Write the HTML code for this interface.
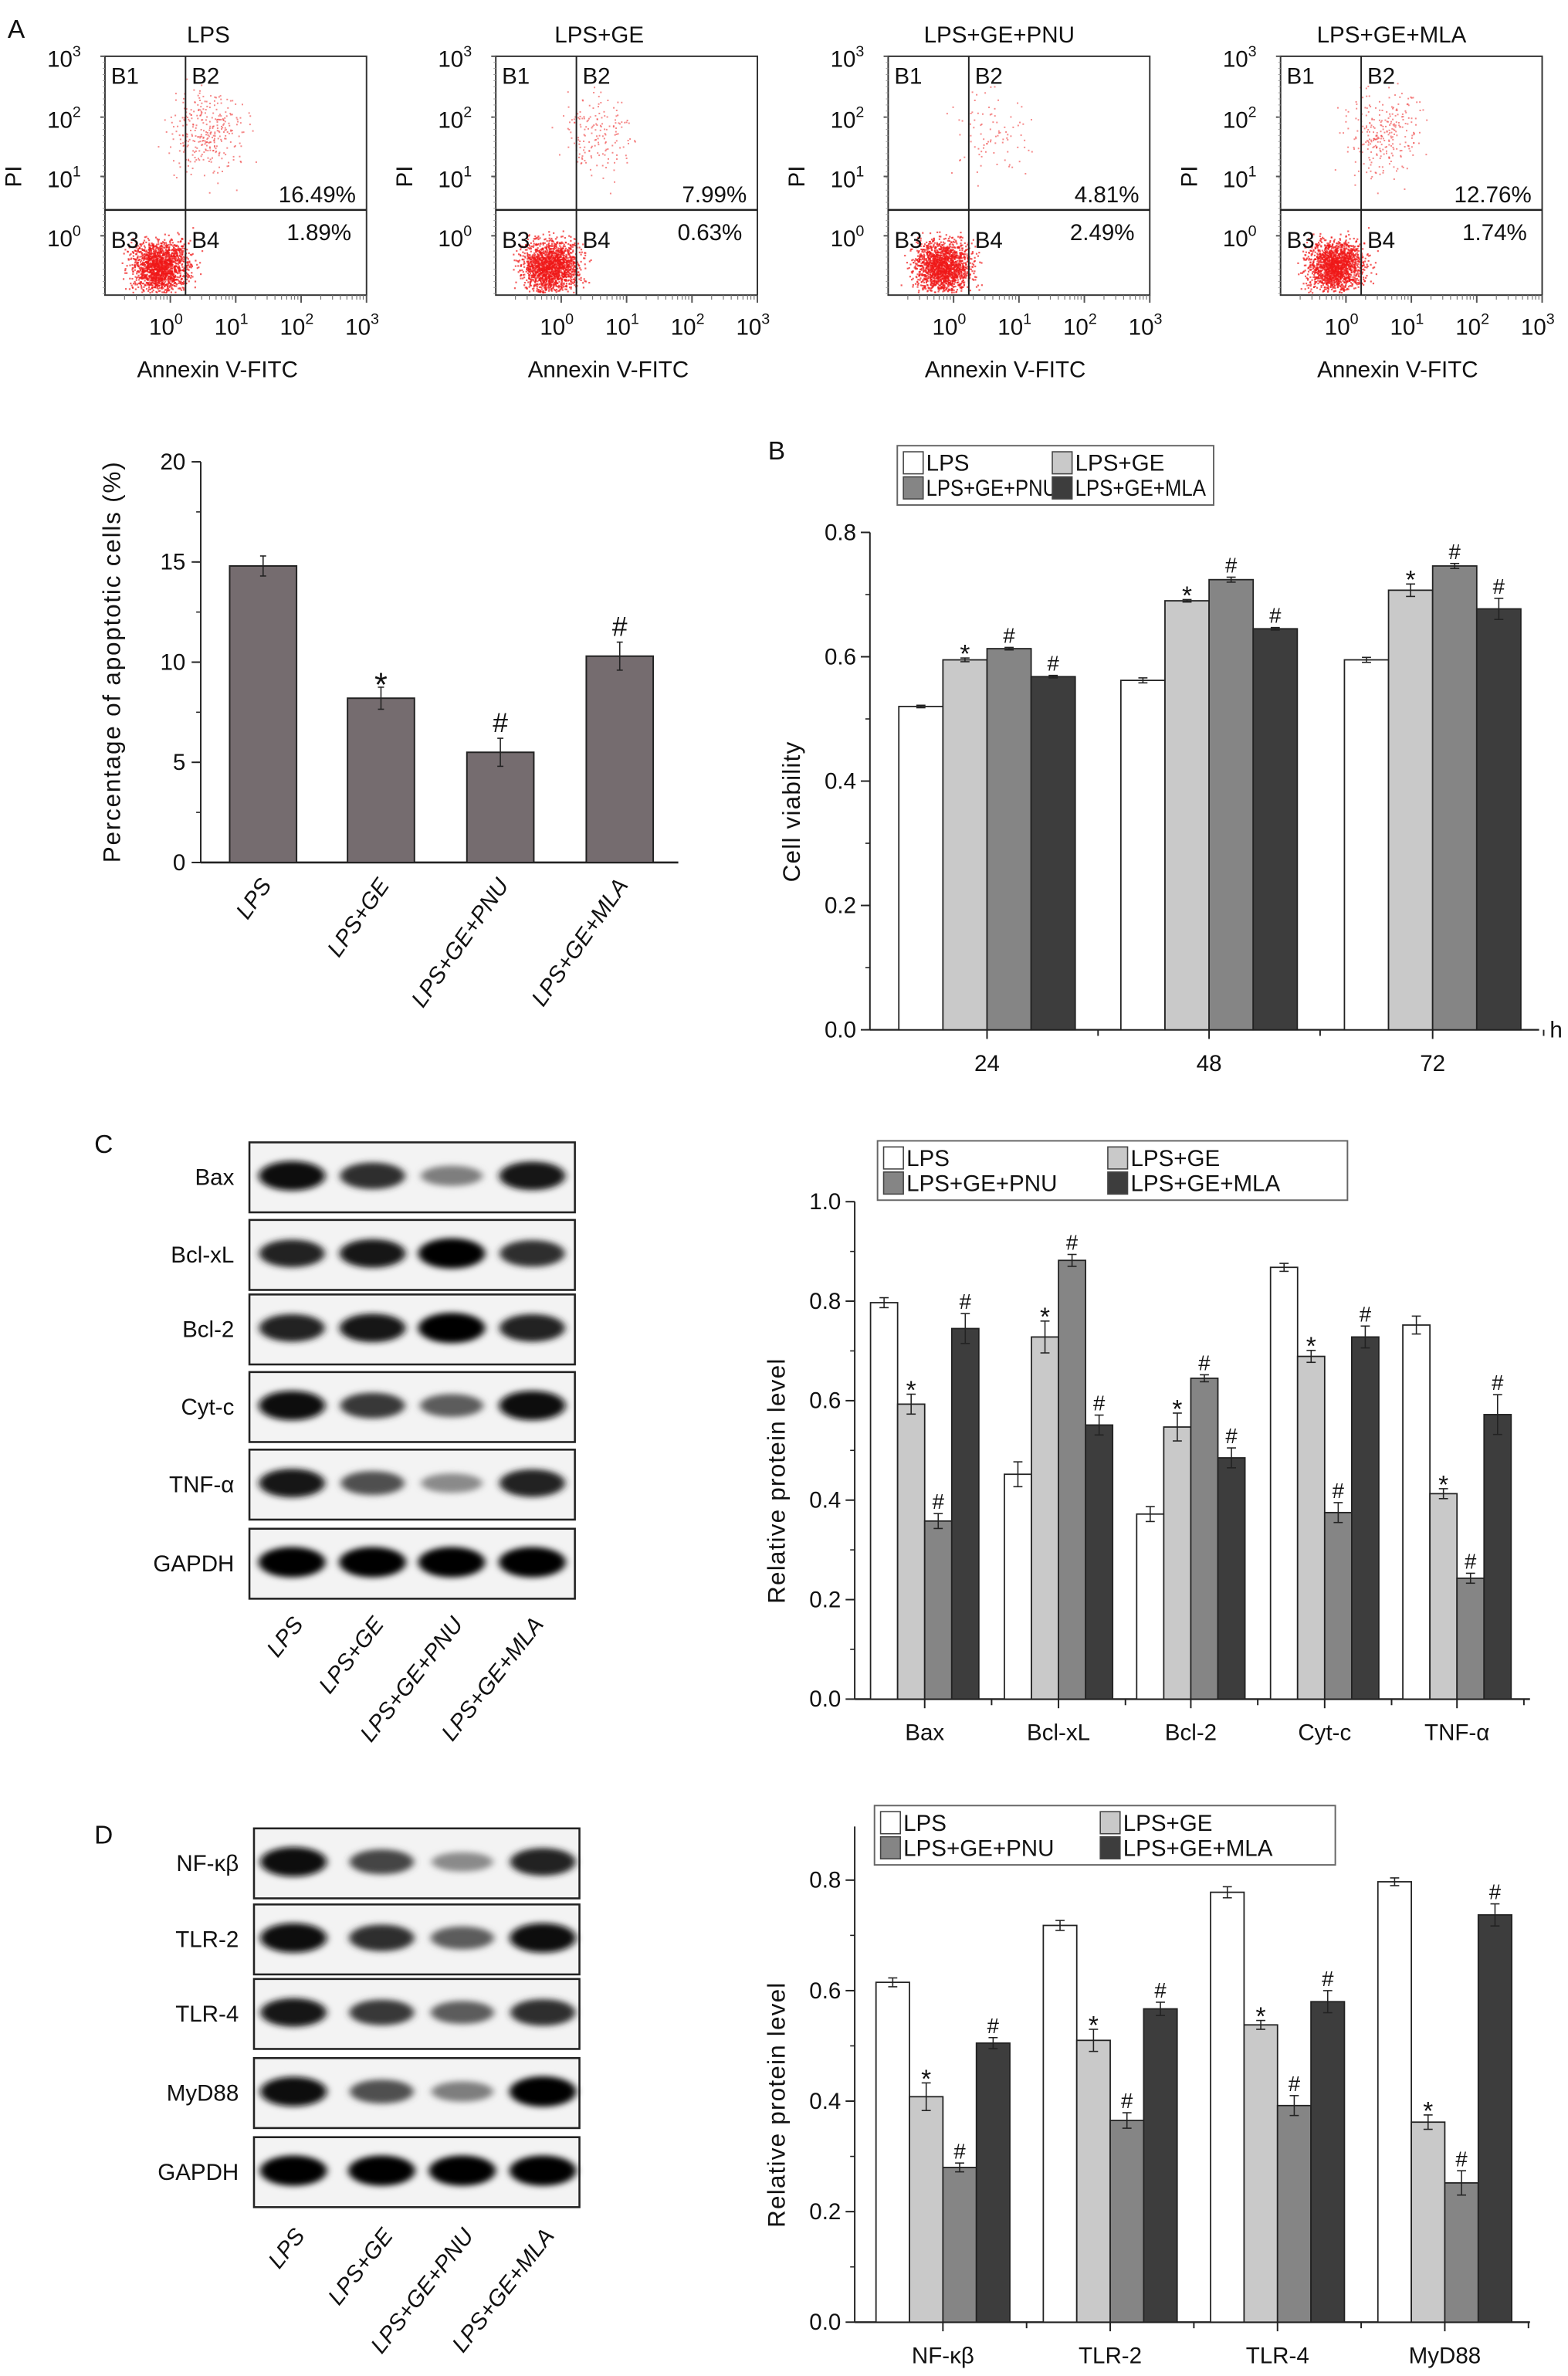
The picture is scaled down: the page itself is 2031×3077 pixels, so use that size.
<!DOCTYPE html>
<html><head><meta charset="utf-8"><style>
html,body{margin:0;padding:0;background:#fff}
svg{display:block}
text{font-family:"Liberation Sans",Arial,sans-serif;fill:#111}
</style></head><body>
<svg id="fig" width="2031" height="3077" viewBox="0 0 1031 1562" preserveAspectRatio="none" xmlns="http://www.w3.org/2000/svg">
<rect width="1031" height="1562" fill="#fff"/>
<g id="flow"></g>
<g id="chartA"></g>
<g id="chartB"></g>
<g id="blotC"></g>
<g id="chartC"></g>
<g id="blotD"></g>
<g id="chartD"></g>
<text x="5" y="25" font-size="17">A</text>
<text x="505" y="302" font-size="17">B</text>
<text x="62" y="758" font-size="17">C</text>
<text x="62" y="1212" font-size="17">D</text>
</svg>
<script>
// ---------- data ----------
const groups = ["LPS","LPS+GE","LPS+GE+PNU","LPS+GE+MLA"];
const flowUpperRight = ["16.49%","7.99%","4.81%","12.76%"];
const flowLowerRight = ["1.89%","0.63%","2.49%","1.74%"];
const flowB2Density = [320,170,90,280];

const apoptosisValues = [14.8, 8.2, 5.5, 10.3];
const apoptosisErrors = [0.5, 0.55, 0.7, 0.7];
const apoptosisMarks = ["", "*", "#", "#"];
const apoptosisTicks = [0,5,10,15,20];

const viabilityCats = ["24","48","72"];
const viabilityLPS = [0.520, 0.562, 0.595];
const viabilityGE = [0.595, 0.690, 0.707];
const viabilityPNU = [0.613, 0.724, 0.746];
const viabilityMLA = [0.568, 0.645, 0.677];
const viabilityErrLPS = [0.002, 0.004, 0.004];
const viabilityErrGE = [0.003, 0.002, 0.010];
const viabilityErrPNU = [0.002, 0.004, 0.004];
const viabilityErrMLA = [0.002, 0.002, 0.017];
const viabilityTicks = [0.0,0.2,0.4,0.6,0.8];

const proteinCatsC = ["Bax","Bcl-xL","Bcl-2","Cyt-c","TNF-α"];
const proteinC_LPS = [0.797, 0.452, 0.372, 0.868, 0.752];
const proteinC_GE = [0.593, 0.728, 0.547, 0.689, 0.413];
const proteinC_PNU = [0.358, 0.882, 0.645, 0.375, 0.243];
const proteinC_MLA = [0.745, 0.551, 0.485, 0.728, 0.572];
const proteinC_ErrLPS = [0.010, 0.025, 0.015, 0.008, 0.018];
const proteinC_ErrGE = [0.020, 0.032, 0.028, 0.012, 0.010];
const proteinC_ErrPNU = [0.015, 0.012, 0.007, 0.020, 0.010];
const proteinC_ErrMLA = [0.030, 0.020, 0.020, 0.022, 0.040];
const proteinTicksC = [0.0,0.2,0.4,0.6,0.8,1.0];

const proteinCatsD = ["NF-κβ","TLR-2","TLR-4","MyD88"];
const proteinD_LPS = [0.615, 0.718, 0.778, 0.797];
const proteinD_GE = [0.408, 0.510, 0.538, 0.362];
const proteinD_PNU = [0.280, 0.365, 0.392, 0.252];
const proteinD_MLA = [0.505, 0.567, 0.580, 0.737];
const proteinD_ErrLPS = [0.008, 0.009, 0.010, 0.007];
const proteinD_ErrGE = [0.025, 0.020, 0.008, 0.013];
const proteinD_ErrPNU = [0.008, 0.014, 0.018, 0.022];
const proteinD_ErrMLA = [0.010, 0.012, 0.020, 0.020];
const proteinTicksD = [0.0,0.2,0.4,0.6,0.8];

const blotRowsC = ["Bax","Bcl-xL","Bcl-2","Cyt-c","TNF-α","GAPDH"];
const blotIntensityC = [[.95,.8,.45,.9],[.85,.9,1,.8],[.85,.9,1,.85],[.95,.75,.6,.95],[.9,.65,.4,.85],[1,1,1,1]];
const blotRowsD = ["NF-κβ","TLR-2","TLR-4","MyD88","GAPDH"];
const blotIntensityD = [[.95,.7,.4,.85],[.95,.8,.6,.95],[.9,.75,.6,.8],[.95,.65,.45,1],[1,1,1,1]];

const fills = ["#ffffff","#c9c9c9","#858585","#3d3d3d"];
const NS = "http://www.w3.org/2000/svg";
function mk(parent, tag, attrs, txt){
  const e = document.createElementNS(NS, tag);
  for (const k in attrs) e.setAttribute(k, attrs[k]);
  if (txt !== undefined) e.textContent = txt;
  parent.appendChild(e); return e;
}
// seeded texture generator for flow cytometry dot clouds
let seed = 12345;
function rnd(){ seed = (seed*1103515245 + 12345) & 0x7fffffff; return seed/0x7fffffff; }
function gauss(){ return (rnd()+rnd()+rnd()+rnd()-2)/0.816; }

// ---------- flow cytometry ----------
(function(){
  const g = document.getElementById('flow');
  const xs = [69,326,584,842];
  const top = 37, bot = 194, W = 172;
  xs.forEach((x0,i)=>{
    const p = mk(g,'g',{});
    
    
    const t = mk(p,'text',{x:x0+W/2-18+(i>1?5:0),y:28,'font-size':15,'text-anchor':'middle'},groups[i]);
    
    
    const gx = x0+53, gy = 138;
    for (let k=0;k<1700;k++){
      const dx = x0+36+gauss()*13, dy = 175+gauss()*12;
      if (dx<x0+2||dx>x0+W-2||dy<top+2||dy>bot-2) continue;
      mk(p,'rect',{x:dx.toFixed(1),y:dy.toFixed(1),width:1.1,height:1.1,fill:'#f01818','fill-opacity':0.7});
    }
    for (let k=0;k<flowB2Density[i];k++){
      const dx = gx+14+gauss()*17, dy = 88+gauss()*20;
      if (dx<x0+2||dx>x0+W-2||dy<top+2||dy>bot-2) continue;
      mk(p,'rect',{x:dx.toFixed(1),y:dy.toFixed(1),width:1,height:1,fill:'#ee3a3a','fill-opacity':0.6});
    }
    mk(p,'rect',{x:x0,y:top,width:W,height:bot-top,fill:'none',stroke:'#333','stroke-width':1});
    mk(p,'line',{x1:gx,y1:top,x2:gx,y2:bot,stroke:'#222','stroke-width':1});
    mk(p,'line',{x1:x0,y1:gy,x2:x0+W,y2:gy,stroke:'#222','stroke-width':1.3});
    [['B1',x0+4,55],['B2',gx+4,55],['B3',x0+4,163],['B4',gx+4,163]].forEach(q=>{
      const e=mk(p,'text',{x:q[1],y:q[2],'font-size':15},q[0]);
      
      
    });
    const u=mk(p,'text',{x:x0+W-7,y:133,'font-size':15,'text-anchor':'end'},flowUpperRight[i]);
    
    
    const l=mk(p,'text',{x:x0+W-10,y:158,'font-size':15,'text-anchor':'end'},flowLowerRight[i]);
    
    
    const ylab = [[top,'3'],[77,'2'],[116,'1'],[155,'0']];
    ylab.forEach(q=>{
      const e=mk(p,'text',{x:x0-38,y:q[0]+7,'font-size':15},'10');
      mk(e,'tspan',{dy:-7,'font-size':10},q[1]);
      
      
      mk(p,'line',{x1:x0-3,y1:q[0],x2:x0,y2:q[0],stroke:'#555'});
    });
    for(let y=top+4;y<bot;y+=4) mk(p,'line',{x1:x0-1.5,y1:y,x2:x0,y2:y,stroke:'#999','stroke-width':0.5});
    const xt=[x0+43,x0+86,x0+129,x0+172];
    xt.forEach((xx,j)=>{
      const e=mk(p,'text',{x:xx-14,y:220,'font-size':15},'10');
      mk(e,'tspan',{dy:-7,'font-size':10},String(j));
      
      
      mk(p,'line',{x1:xx,y1:bot,x2:xx,y2:bot+5,stroke:'#555'});
      for(const f of [0.3,0.48,0.6,0.7,0.78,0.85,0.9,0.95]) mk(p,'line',{x1:xx-43+f*43,y1:bot,x2:xx-43+f*43,y2:bot+3,stroke:'#777','stroke-width':0.6});
    });
    const pi=mk(p,'text',{x:0,y:0,'font-size':15,transform:`translate(${x0-55},${116}) rotate(-90)`,'text-anchor':'middle'},'PI');
    
    
    const ax=mk(p,'text',{x:x0+W/2-12+(i>1?3:0),y:248,'font-size':15,'text-anchor':'middle'},'Annexin V-FITC');
    
    
  });
})();

// ---------- generic helpers ----------
function errBar(g,x,y1,y2,w){
  mk(g,'line',{x1:x,y1:y1,x2:x,y2:y2,stroke:'#222','stroke-width':0.8});
  mk(g,'line',{x1:x-w,y1:y1,x2:x+w,y2:y1,stroke:'#222','stroke-width':0.8});
  mk(g,'line',{x1:x-w,y1:y2,x2:x+w,y2:y2,stroke:'#222','stroke-width':0.8});
}
function legend(g,x,y,w,h,fit){
  const L=mk(g,'g',{});
  
  
  mk(L,'rect',{x:x,y:y,width:w,height:h,fill:'#fff',stroke:'#666','stroke-width':1});
  const cols=[x+4,x+w*0.49], rows=[y+4,y+h/2+1];
  groups.forEach((n,i)=>{
    const cx=cols[i%2], cy=rows[Math.floor(i/2)];
    const sw=mk(L,'rect',{x:cx,y:cy,width:13,height:h/2-5,fill:fills[i],stroke:'#444','stroke-width':0.8});
    
    
    const attrs={x:cx+15,y:cy+h/2-7,'font-size':15};
    if(fit && n.length>6){attrs.textLength=fit; attrs.lengthAdjust='spacingAndGlyphs';}
    const t=mk(L,'text',attrs,n);
    
    
  });
}
function grouped(g,opt){
  const {x0,x1,y0,vmax,vtop,ticks,minor,cats,series,errs,centers,barW,label,fmt}=opt;
  const ys=v=>y0-(v/vmax)*(y0-opt.yAt);
  const axis=mk(g,'g',{});
  
  
  mk(axis,'line',{x1:x0,y1:y0,x2:x0,y2:ys(vtop),stroke:'#222','stroke-width':1});
  for(let v=0;v<=vtop+1e-9;v+=minor) mk(axis,'line',{x1:x0-3,y1:ys(v),x2:x0,y2:ys(v),stroke:'#222','stroke-width':0.8});
  ticks.forEach(v=>{
    mk(axis,'line',{x1:x0-6,y1:ys(v),x2:x0,y2:ys(v),stroke:'#222','stroke-width':1});
    const t=mk(axis,'text',{x:x0-9,y:ys(v)+5,'font-size':15,'text-anchor':'end'},fmt(v));
    
    
  });
  const yt=mk(g,'text',{x:0,y:0,'font-size':16,'letter-spacing':'0.6','text-anchor':'middle',transform:`translate(${x0-46},${(y0+ys(vtop))/2+20}) rotate(-90)`},label);
  
  
  const xa=mk(g,'line',{x1:x0,y1:y0,x2:x1,y2:y0,stroke:'#222','stroke-width':1.2});
  
  
  const sp=centers.length>1?centers[1]-centers[0]:100;
  cats.forEach((c,ci)=>{
    const cx=centers[ci];
    mk(g,'line',{x1:cx,y1:y0,x2:cx,y2:y0+6,stroke:'#222'});
    mk(g,'line',{x1:cx+sp/2,y1:y0,x2:cx+sp/2,y2:y0+4,stroke:'#222'});
    const t=mk(g,'text',{x:cx,y:y0+27,'font-size':15,'text-anchor':'middle'},c);
    
    
    series.forEach((s,si)=>{
      const bx=cx-2*barW+si*barW, v=s[ci], e=errs[si][ci];
      const r=mk(g,'rect',{x:bx,y:ys(v),width:barW,height:y0-ys(v),fill:fills[si],stroke:'#222','stroke-width':0.9});
      
      
      errBar(g,bx+barW/2,ys(v+e),ys(v-e),3);
      const m = si===0?'':(si===1?'*':'#');
      if(m){
        const a=mk(g,'text',{x:bx+barW/2,y:ys(v+e)-(m==='*'?-3:3),'font-size':m==='*'?17:14,'text-anchor':'middle'},m);
        
        
      }
    });
  });
}

// ---------- chart A (apoptosis) ----------
(function(){
  const g=document.getElementById('chartA');
  const x0=132,y0=567,yTop=303.6,vmax=20;
  const ys=v=>y0-v/vmax*(y0-yTop);
  const centers=[173,250.5,329,407.5], bw=44;
  mk(g,'line',{x1:x0,y1:y0,x2:x0,y2:yTop,stroke:'#222'});
  for(let v=0;v<=20;v+=2.5) mk(g,'line',{x1:x0-3,y1:ys(v),x2:x0,y2:ys(v),stroke:'#222','stroke-width':0.8});
  apoptosisTicks.forEach(v=>{
    mk(g,'line',{x1:x0-6,y1:ys(v),x2:x0,y2:ys(v),stroke:'#222'});
    const t=mk(g,'text',{x:x0-10,y:ys(v)+5,'font-size':15,'text-anchor':'end'},String(v));
    
    
  });
  mk(g,'line',{x1:x0,y1:y0,x2:446,y2:y0,stroke:'#222','stroke-width':1.3});
  const yt=mk(g,'text',{x:0,y:0,'font-size':16,'letter-spacing':'0.9','text-anchor':'middle',transform:`translate(79,${435}) rotate(-90)`},'Percentage of apoptotic cells (%)');
  
  
  groups.forEach((n,i)=>{
    const v=apoptosisValues[i],e=apoptosisErrors[i],cx=centers[i];
    const r=mk(g,'rect',{x:cx-bw/2,y:ys(v),width:bw,height:y0-ys(v),fill:'#756c6f',stroke:'#222','stroke-width':1});
    
    
    errBar(g,cx,ys(v+e),ys(v-e),2);
    if(apoptosisMarks[i]){
      const s=apoptosisMarks[i]==='*';
      const a=mk(g,'text',{x:cx,y:ys(v+e)-(s?-6:4),'font-size':s?22:18,'text-anchor':'middle'},apoptosisMarks[i]);
      
      
    }
    const t=mk(g,'text',{x:0,y:0,'font-size':15,'font-style':'italic','text-anchor':'end',transform:`translate(${cx+6},${582}) rotate(-55)`},n);
    
    
  });
})();

// ---------- chart B (viability) ----------
(function(){
  const g=document.getElementById('chartB');
  legend(g,590,293,208,39,86);
  grouped(g,{x0:572,x1:1012,y0:677,yAt:350,vmax:0.8,vtop:0.8,ticks:viabilityTicks,minor:0.1,
    cats:viabilityCats,series:[viabilityLPS,viabilityGE,viabilityPNU,viabilityMLA],
    errs:[viabilityErrLPS,viabilityErrGE,viabilityErrPNU,viabilityErrMLA],
    centers:[649,795,942],barW:29,label:'Cell viability',fmt:v=>v.toFixed(1)});
  mk(g,'text',{x:1019,y:682,'font-size':15},'h');
})();

// ---------- chart C ----------
(function(){
  const g=document.getElementById('chartC');
  legend(g,577,750,309,39,0);
  grouped(g,{x0:562,x1:1006,y0:1117,yAt:790,vmax:1.0,vtop:1.0,ticks:proteinTicksC,minor:0.1,
    cats:proteinCatsC,series:[proteinC_LPS,proteinC_GE,proteinC_PNU,proteinC_MLA],
    errs:[proteinC_ErrLPS,proteinC_ErrGE,proteinC_ErrPNU,proteinC_ErrMLA],
    centers:[608,696,783,871,958],barW:17.8,label:'Relative protein level',fmt:v=>v.toFixed(1)});
})();

// ---------- chart D ----------
(function(){
  const g=document.getElementById('chartD');
  legend(g,575,1187,303,39,0);
  grouped(g,{x0:562,x1:1006,y0:1526.6,yAt:1236,vmax:0.8,vtop:0.897,ticks:proteinTicksD,minor:0.1,
    cats:proteinCatsD,series:[proteinD_LPS,proteinD_GE,proteinD_PNU,proteinD_MLA],
    errs:[proteinD_ErrLPS,proteinD_ErrGE,proteinD_ErrPNU,proteinD_ErrMLA],
    centers:[620,730,840,950],barW:22,label:'Relative protein level',fmt:v=>v.toFixed(1)});
})();

// ---------- western blots ----------
function blot(id,rows,intens,x0,x1,tops,h,lanes,labY){
  const g=document.getElementById(id);
  const defs=mk(g,'defs',{});
  const f=mk(defs,'filter',{id:id+'blur',x:'-30%',y:'-80%',width:'160%',height:'260%'});
  mk(f,'feGaussianBlur',{stdDeviation:'2.4 2'});
  rows.forEach((r,ri)=>{
    const y=tops[ri];
    const rg=mk(g,'g',{});
    
    
    mk(rg,'rect',{x:x0,y:y,width:x1-x0,height:h,fill:'#f3f3f3',stroke:'#222','stroke-width':1.3});
    const bg=mk(rg,'g',{filter:`url(#${id}blur)`});
    lanes.forEach((lx,li)=>{
      const k=intens[ri][li];
      const c=Math.round(255*(1-k)*0.9);
      mk(bg,'ellipse',{cx:lx,cy:y+h/2-1,rx:19+k*3,ry:4+k*6,fill:`rgb(${c},${c},${c})`});
    });
    const t=mk(rg,'text',{x:x0-10,y:y+h/2+5,'font-size':15,'text-anchor':'end'},r);
    
    
  });
  lanes.forEach((lx,li)=>{
    const t=mk(g,'text',{x:0,y:0,'font-size':15,'font-style':'italic','text-anchor':'end',transform:`translate(${lx+8},${labY}) rotate(-52)`},groups[li]);
    
    
  });
}
blot('blotC',blotRowsC,blotIntensityC,164,378,[751,802,851,902,953,1005],46,[192,245,297,350],1068);
blot('blotD',blotRowsD,blotIntensityD,167,381,[1202,1252,1301,1353,1405],46,[193,251,304,357],1470);
</script>
</body></html>
